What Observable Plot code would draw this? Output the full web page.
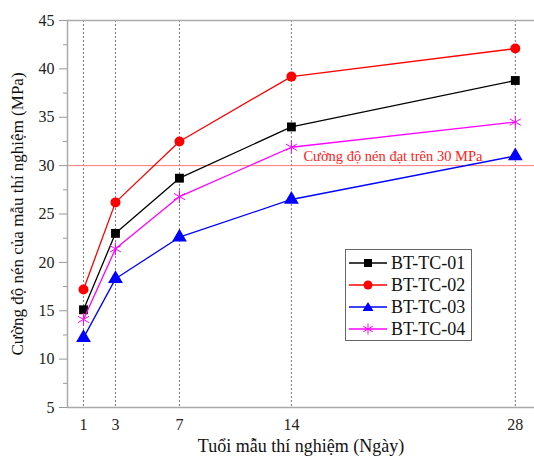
<!DOCTYPE html>
<html>
<head>
<meta charset="utf-8">
<script src="https://cdn.jsdelivr.net/npm/d3@7"></script>
<script src="https://cdn.jsdelivr.net/npm/@observablehq/plot@0.6"></script>
<style>
  html, body { margin: 0; padding: 0; background: white; overflow: hidden; }
  #wrap { position: relative; width: 534px; height: 457px; font-family: "Liberation Serif", "Times New Roman", serif; }
  #wrap svg text { font-family: "Liberation Serif", "Times New Roman", serif; }
  #legend { position: absolute; left: 345px; top: 249px; width: 127px; height: 92px; border: 1px solid #666; background: white; box-sizing: border-box; padding-top: 2px; }
  #legend .row { display: flex; align-items: center; height: 22px; font-size: 18px; color: #111; font-family: "Liberation Serif", "Times New Roman", serif; }
  #legend svg { margin-left: 2px; margin-right: 3px; }
</style>
</head>
<body>
<div id="wrap"></div>
<script>
const days = [1, 3, 7, 14, 28];
const seriesNames = ["BT-TC-01", "BT-TC-02", "BT-TC-03", "BT-TC-04"];
const tc01 = [15.1, 23.0, 28.7, 34.0, 38.8];
const tc02 = [17.2, 26.2, 32.5, 39.2, 42.1];
const tc03 = [12.2, 18.3, 22.6, 26.5, 31.0];
const tc04 = [14.1, 21.4, 26.8, 31.9, 34.5];
const seriesColors = ["#000000", "#ff0000", "#0000ff", "#ff00ff"];
const seriesSymbols = ["square", "circle", "triangle", "asterisk"];
const yTicks = [5, 10, 15, 20, 25, 30, 35, 40, 45];
const yMinorTicks = [7.5, 12.5, 17.5, 22.5, 27.5, 32.5, 37.5, 42.5];
const threshold = 30;
const thresholdLabel = "Cường độ nén đạt trên 30 MPa";
const xLabel = "Tuổi mẫu thí nghiệm (Ngày)";
const yLabel = "Cường độ nén của mẫu thí nghiệm (MPa)";

const allValues = [tc01, tc02, tc03, tc04];
const data = [];
seriesNames.forEach((s, i) => {
  days.forEach((d, j) => data.push({series: s, day: d, value: allValues[i][j]}));
});

const marks = [
  Plot.ruleX(days, {stroke: "#777", strokeDasharray: "2,2", strokeWidth: 1}),
  Plot.ruleY([threshold], {stroke: "#ff7878", strokeWidth: 1}),
  Plot.ruleY([45], {stroke: "#aaa", strokeWidth: 1.5}),
  Plot.ruleX([0], {stroke: "#aaa", strokeWidth: 1.5}),
  Plot.ruleY([5], {stroke: "#aaa", strokeWidth: 1.5}),
  Plot.axisX({ticks: days, tickSize: 0, tickPadding: 11, fontSize: 16, label: null}),
  Plot.axisY({ticks: yTicks, tickSize: 8, tickPadding: 5, fontSize: 16, label: null, stroke: "#999"}),
  Plot.axisY({ticks: yMinorTicks, tickSize: 4, tickFormat: () => "", label: null, stroke: "#999"}),
  Plot.text([thresholdLabel], {x: 14, y: threshold, dx: 12, dy: -9, textAnchor: "start", fill: "#ff2020", fontSize: 14.5}),
  Plot.text([xLabel], {frameAnchor: "bottom", dy: 44, fontSize: 18, fill: "#111"}),
  Plot.text([yLabel], {frameAnchor: "left", textAnchor: "middle", dx: -50, dy: 0, rotate: -90, fontSize: 17, fill: "#111"})
];
seriesNames.forEach((s, i) => {
  const sub = data.filter(d => d.series === s);
  marks.push(Plot.line(sub, {x: "day", y: "value", stroke: seriesColors[i], strokeWidth: 1.3}));
  if (seriesSymbols[i] === "asterisk") {
    marks.push(Plot.dot(sub, {x: "day", y: "value", symbol: "asterisk", stroke: seriesColors[i], r: 6, strokeWidth: 1}));
  } else {
    marks.push(Plot.dot(sub, {x: "day", y: "value", symbol: seriesSymbols[i], fill: seriesColors[i], stroke: "none", r: seriesSymbols[i] === "triangle" ? 5.5 : 5}));
  }
});

const chart = Plot.plot({
  width: 534, height: 457,
  marginLeft: 67, marginRight: 0, marginTop: 20, marginBottom: 50,
  style: {fontFamily: "'Liberation Serif', 'Times New Roman', serif", fontSize: "16px", background: "white", color: "#222"},
  x: {domain: [0, 29.2]},
  y: {domain: [5, 45]},
  marks
});
const wrap = document.getElementById("wrap");
wrap.appendChild(chart);

const legend = document.createElement("div");
legend.id = "legend";
const symbolPaths = {
  square: '<rect x="16" y="6" width="8" height="8"/>',
  circle: '<circle cx="20" cy="10" r="4.5"/>',
  triangle: '<path d="M20,5 L25.5,14 L14.5,14 Z"/>',
  asterisk: '<path d="M20,4.5 V15.5 M15.2,7.2 L24.8,12.8 M15.2,12.8 L24.8,7.2" fill="none" stroke-width="1"/>'
};
seriesNames.forEach((s, i) => {
  const c = seriesColors[i];
  const sym = seriesSymbols[i];
  const fillAttr = sym === "asterisk" ? `stroke="${c}" fill="none"` : `fill="${c}"`;
  const row = document.createElement("div");
  row.className = "row";
  row.innerHTML = `<svg width="40" height="20"><line x1="1" x2="39" y1="10" y2="10" stroke="${c}" stroke-width="1.3"/><g ${fillAttr}>${symbolPaths[sym]}</g></svg><span>${s}</span>`;
  legend.appendChild(row);
});
wrap.appendChild(legend);
</script>
</body>
</html>
